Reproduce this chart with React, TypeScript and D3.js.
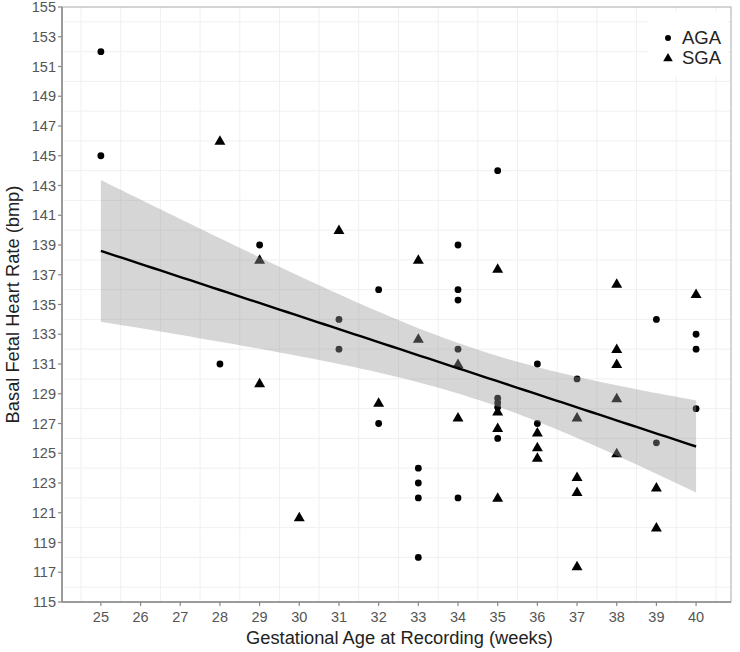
import { useMemo } from 'react';
import * as d3 from 'd3';

// AGA group: [weeks, bpm]
const agaWeeks = [25, 25, 28, 29, 31, 31, 32, 32, 33, 33, 33, 33, 34, 34, 34, 34, 34, 35, 35, 35, 35, 35, 36, 36, 37, 39, 39, 40, 40, 40];
const agaRate = [152, 145, 131, 139, 134, 132, 136, 127, 124, 123, 122, 118, 139, 136, 135.3, 132, 122, 144, 128.7, 128.4, 128.1, 126, 131, 127, 130, 134, 125.7, 133, 132, 128];

// SGA group
const sgaWeeks = [28, 29, 29, 30, 31, 32, 33, 33, 34, 34, 35, 35, 35, 35, 36, 36, 36, 37, 37, 37, 37, 38, 38, 38, 38, 38, 39, 39, 40];
const sgaRate = [146, 138, 129.7, 120.7, 140, 128.4, 138, 132.7, 131, 127.4, 137.4, 127.8, 126.7, 122, 126.4, 125.4, 124.7, 127.4, 123.4, 122.4, 117.4, 136.4, 132, 131, 128.7, 125, 122.7, 120, 135.7];

const xTicks = d3.range(25, 41);
const yTicks = d3.range(115, 156, 2);
const xGrid = d3.range(24.5, 41, 1);
const yGrid = d3.range(116, 155, 2);

const W = 740;
const H = 652;
const left = 62;
const right = 731;
const top = 7;
const bottom = 602;
const font = '"Liberation Sans", Arial, sans-serif';

export default function App() {
  const x = d3.scaleLinear().domain([24.02, 40.88]).range([left, right]);
  const y = d3.scaleLinear().domain([115, 155]).range([bottom, top]);

  // linear fit with 95% confidence band (like geom_smooth(method = "lm"))
  const fit = useMemo(() => {
    const xs = [...agaWeeks, ...sgaWeeks];
    const ys = [...agaRate, ...sgaRate];
    const n = xs.length;
    const mx = d3.mean(xs)!;
    const my = d3.mean(ys)!;
    const sxx = d3.sum(xs, (v) => (v - mx) ** 2);
    const sxy = d3.sum(xs, (v, i) => (v - mx) * (ys[i] - my));
    const b = sxy / sxx;
    const a = my - b * mx;
    const rss = d3.sum(xs, (v, i) => (ys[i] - (a + b * v)) ** 2);
    const s = Math.sqrt(rss / (n - 2));
    const t = 2.004; // t(0.975, df ~ 55)
    const grid = d3.range(0, 81).map((i) => 25 + (i * 15) / 80);
    return grid.map((g) => {
      const yh = a + b * g;
      const se = s * Math.sqrt(1 / n + (g - mx) ** 2 / sxx);
      return { g, yh, lo: yh - t * se, hi: yh + t * se };
    });
  }, []);

  const band = d3.area<any>().x((d) => x(d.g)).y0((d) => y(d.lo)).y1((d) => y(d.hi));
  const line = d3.line<any>().x((d) => x(d.g)).y((d) => y(d.yh));
  const tri = d3.symbol(d3.symbolTriangle, 52);
  const triSmall = d3.symbol(d3.symbolTriangle, 40);

  return (
    <svg width={W} height={H} style={{ position: 'absolute', left: 0, top: 0, background: '#fff' }} fontFamily={font}>
      <rect x={0} y={0} width={W} height={H} fill="#fff" />

      {/* grid */}
      {xGrid.map((g) => (
        <line key={'gx' + g} x1={x(g)} x2={x(g)} y1={top} y2={bottom} stroke="#f0f0f0" strokeWidth={1} />
      ))}
      {yGrid.map((g) => (
        <line key={'gy' + g} x1={left} x2={right} y1={y(g)} y2={y(g)} stroke="#f0f0f0" strokeWidth={1} />
      ))}

      {/* legend background */}
      <rect x={648} y={12} width={80} height={63} fill="#fff" />

      {/* points */}
      {agaWeeks.map((w, i) => (
        <circle key={'a' + i} cx={x(w)} cy={y(agaRate[i])} r={3.4} fill="#000" />
      ))}
      {sgaWeeks.map((w, i) => (
        <path key={'s' + i} d={tri()!} transform={`translate(${x(w)},${y(sgaRate[i]) + 0.8})`} fill="#000" />
      ))}

      {/* smooth */}
      <path d={band(fit)!} fill="#999" fillOpacity={0.4} />
      <path d={line(fit)!} fill="none" stroke="#000" strokeWidth={2.4} />

      {/* panel border */}
      <rect x={left} y={top} width={right - left} height={bottom - top} fill="none" stroke="#aaa" strokeWidth={1} />
      <line x1={left} x2={left} y1={top} y2={bottom} stroke="#888" strokeWidth={1.5} />
      <line x1={left} x2={right} y1={bottom} y2={bottom} stroke="#888" strokeWidth={1.5} />

      {/* y axis */}
      {yTicks.map((t) => (
        <g key={'yt' + t}>
          <line x1={left - 4} x2={left} y1={y(t)} y2={y(t)} stroke="#888" strokeWidth={1.2} />
          <text x={left - 6} y={y(t)} dy="0.35em" textAnchor="end" fontSize={14.5} fill="#555">
            {t}
          </text>
        </g>
      ))}

      {/* x axis */}
      {xTicks.map((t) => (
        <g key={'xt' + t}>
          <line x1={x(t)} x2={x(t)} y1={bottom} y2={bottom + 4} stroke="#888" strokeWidth={1.2} />
          <text x={x(t)} y={bottom + 15} dy="0.35em" textAnchor="middle" fontSize={14.5} fill="#555">
            {t}
          </text>
        </g>
      ))}

      <text x={(left + right) / 2 + 3} y={638} dy="0.35em" textAnchor="middle" fontSize={18.3} fill="#222">
        Gestational Age at Recording (weeks)
      </text>
      <text transform={`translate(13,${(top + bottom) / 2}) rotate(-90)`} dy="0.35em" textAnchor="middle" fontSize={18.3} fill="#222">
        Basal Fetal Heart Rate (bmp)
      </text>

      {/* legend */}
      <circle cx={668} cy={38} r={3} fill="#000" />
      <path d={triSmall()!} transform="translate(668,58.5)" fill="#000" />
      <text x={682} y={38} dy="0.35em" fontSize={18.5} fill="#222">AGA</text>
      <text x={682} y={58} dy="0.35em" fontSize={18.5} fill="#222">SGA</text>
    </svg>
  );
}
